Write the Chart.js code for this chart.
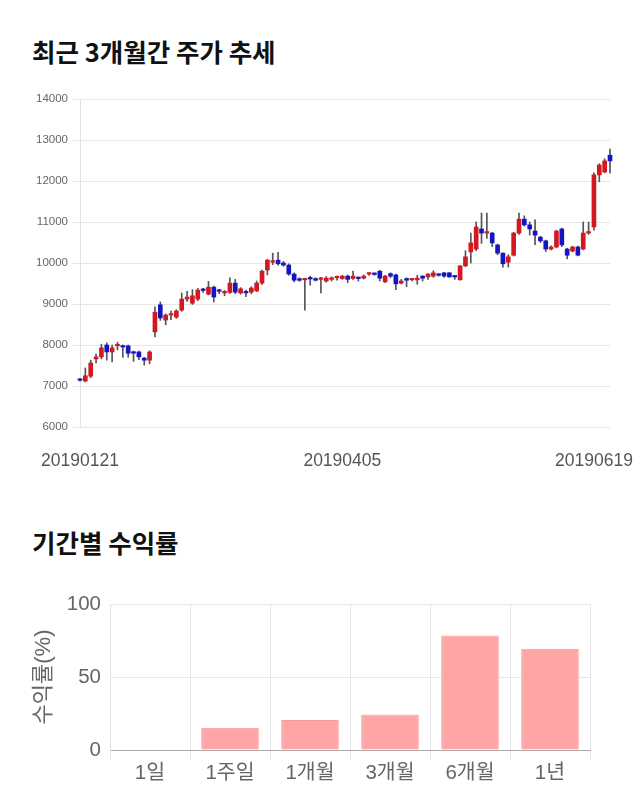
<!DOCTYPE html>
<html>
<head>
<meta charset="utf-8">
<script src="https://cdn.jsdelivr.net/npm/chart.js@4"></script>
<style>
    body { margin: 0; background: #fff; width: 640px; height: 810px; position: relative; overflow: hidden; }
    .title { position: absolute; left: 32px; font: bold 25.5px 'Noto Sans CJK KR', sans-serif; color: #111; line-height: 30px; }
    .box { position: absolute; left: 0; width: 640px; }
</style>
</head>
<body>
<div class="title" style="top: 36px;">최근 3개월간 주가 추세</div>
<div class="box" style="top: 80px; height: 400px;"><canvas id="priceChart" width="640" height="400"></canvas></div>
<div class="title" style="top: 527px;">기간별 수익률</div>
<div class="box" style="top: 580px; height: 220px;"><canvas id="returnChart" width="640" height="220"></canvas></div>

<script>
// daily candles
const opens = [7150, 7120, 7240, 7660, 7710, 8000, 7830, 7980, 7960, 7980,
    7830, 7830, 7680, 7630, 8320, 8980, 8610, 8730, 8680, 8850,
    9120, 9020, 9120, 9350, 9240, 9410, 9330, 9270, 9280, 9510,
    9270, 9280, 9290, 9320, 9510, 9830, 10020, 10070, 10000, 9950,
    9730, 9590, 9590, 9620, 9620, 9600, 9560, 9600, 9640, 9620,
    9680, 9620, 9630, 9630, 9730, 9730, 9800, 9540, 9740, 9710,
    9510, 9620, 9590, 9590, 9680, 9660, 9680, 9710, 9760, 9760,
    9670, 9590, 9930, 10270, 10340, 10830, 10730, 10730, 10440, 10240,
    10020, 10190, 10730, 11070, 10930, 10780, 10630, 10540, 10340, 10390,
    10830, 10340, 10290, 10390, 10340, 10730, 10880, 12150, 12220, 12630];
const highs = [7170, 7440, 7630, 7780, 8020, 8050, 8000, 8070, 8000, 8000,
    7850, 7850, 7700, 7860, 8930, 9050, 8760, 8830, 8860, 9270,
    9310, 9350, 9380, 9380, 9550, 9440, 9360, 9330, 9640, 9600,
    9400, 9340, 9420, 9560, 9830, 10090, 10240, 10260, 10040, 9980,
    9760, 9640, 9620, 9680, 9640, 9650, 9670, 9660, 9680, 9700,
    9710, 9800, 9660, 9710, 9760, 9760, 9820, 9700, 9760, 9730,
    9600, 9640, 9620, 9700, 9690, 9740, 9810, 9740, 9770, 9770,
    9690, 9940, 10300, 10730, 11000, 11220, 11220, 10750, 10460, 10250,
    10200, 10750, 11220, 11150, 11000, 11050, 10650, 10560, 10420, 10800,
    10850, 10360, 10410, 10410, 11000, 11000, 12200, 12420, 12540, 12780];
const lows = [7120, 7100, 7200, 7560, 7660, 7630, 7590, 7880, 7700, 7700,
    7600, 7640, 7510, 7540, 8200, 8600, 8490, 8620, 8650, 8820,
    9060, 8990, 9080, 9280, 9220, 9050, 9250, 9200, 9260, 9250,
    9240, 9180, 9250, 9300, 9480, 9710, 9960, 9950, 9920, 9700,
    9540, 9550, 8850, 9460, 9560, 9270, 9530, 9560, 9580, 9600,
    9520, 9600, 9560, 9610, 9700, 9700, 9560, 9520, 9640, 9350,
    9490, 9420, 9560, 9480, 9560, 9600, 9650, 9680, 9650, 9650,
    9600, 9580, 9910, 10000, 10300, 10480, 10600, 10400, 10200, 9900,
    9900, 10170, 10700, 10900, 10680, 10450, 10500, 10280, 10320, 10370,
    10400, 10100, 10270, 10170, 10320, 10700, 10800, 11980, 12200, 12200];
const closes = [7140, 7250, 7560, 7710, 7930, 7830, 7930, 7990, 7950, 7800,
    7800, 7710, 7630, 7830, 8800, 8660, 8730, 8740, 8830, 9120,
    9170, 9200, 9340, 9330, 9410, 9170, 9310, 9300, 9510, 9290,
    9370, 9270, 9390, 9510, 9800, 10070, 10030, 9980, 9950, 9730,
    9580, 9580, 9600, 9610, 9580, 9610, 9630, 9640, 9650, 9680,
    9600, 9680, 9620, 9680, 9740, 9720, 9630, 9680, 9680, 9490,
    9560, 9580, 9600, 9630, 9630, 9730, 9760, 9700, 9680, 9660,
    9660, 9930, 10150, 10490, 10880, 10730, 10740, 10490, 10240, 9980,
    10150, 10730, 11070, 10930, 10830, 10680, 10540, 10340, 10390, 10780,
    10440, 10190, 10390, 10190, 10730, 10740, 12150, 12390, 12490, 12490];
const dateTicks = { 0: '20190121', 49: '20190405', 96: '20190619' };
const priceTicks = [6000, 14000, 1000];

// period returns
const periods = ['1일', '1주일', '1개월', '3개월', '6개월', '1년'];
const returns = [0, 15.2, 20.6, 24.3, 78.5, 69.3];

const latin = "'Liberation Sans', 'Noto Sans CJK KR', sans-serif";
const upColor = '#d3181f';
const downColor = '#1414c4';

const candleColors = opens.map((o, i) => closes[i] >= o ? upColor : downColor);

new Chart(document.getElementById('priceChart'), {
    type: 'bar',
    data: {
        labels: opens.map((_, i) => i),
        datasets: [{
            // wicks, drawn under the bodies
            data: lows.map((l, i) => [l, highs[i]]),
            backgroundColor: '#555',
            barThickness: 1,
            grouped: false,
            clip: false,
            order: 2
        }, {
            data: opens.map((o, i) => [o, closes[i]]),
            backgroundColor: candleColors,
            barThickness: 4,
            minBarLength: 1.5,
            grouped: false,
            clip: false,
            order: 1
        }]
    },
    options: {
        responsive: false,
        animation: false,
        layout: { padding: { top: 19, right: 30, left: 0, bottom: 0 } },
        plugins: { legend: { display: false }, tooltip: { enabled: false } },
        scales: {
            x: {
                offset: false,
                grid: { display: false, drawTicks: false },
                border: { display: false },
                ticks: {
                    autoSkip: false,
                    maxRotation: 0,
                    padding: 24,
                    color: '#555',
                    font: { family: latin, size: 17.5 },
                    callback: (v, i) => dateTicks[i] || ''
                },
                afterFit: s => { s.height = 53; }
            },
            y: {
                min: priceTicks[0],
                max: priceTicks[1],
                grid: { color: '#e6e6e6', tickLength: 8 },
                border: { color: '#e2e2e2' },
                ticks: {
                    stepSize: priceTicks[2],
                    padding: 4,
                    color: '#666',
                    font: { family: latin, size: 11.5 },
                    callback: v => String(v)
                },
                afterFit: s => { s.width = 80; }
            }
        }
    }
});

new Chart(document.getElementById('returnChart'), {
    type: 'bar',
    data: {
        labels: periods,
        datasets: [{
            data: returns,
            backgroundColor: '#ffa5a5',
            borderColor: '#f49c9c',
            borderWidth: 1
        }]
    },
    options: {
        responsive: false,
        animation: false,
        layout: { padding: { top: 24, right: 50, left: 0, bottom: 0 } },
        plugins: { legend: { display: false }, tooltip: { enabled: false } },
        scales: {
            x: {
                grid: { color: '#e6e6e6', tickLength: 10 },
                border: { color: '#aaa' },
                ticks: {
                    padding: 1,
                    color: '#666',
                    font: { family: latin, size: 20.5 }
                },
                afterFit: s => { s.height = 50; }
            },
            y: {
                min: 0,
                max: 100,
                grid: { color: '#e6e6e6', drawTicks: false },
                border: { color: '#e2e2e2' },
                ticks: {
                    stepSize: 50,
                    padding: 9,
                    color: '#666',
                    font: { family: latin, size: 20.5 }
                },
                title: {
                    display: true,
                    text: '수익률(%)',
                    color: '#666',
                    font: { family: latin, size: 22 },
                    padding: { top: 31, bottom: 0 }
                },
                afterFit: s => { s.width = 110; }
            }
        }
    }
});
</script>
</body>
</html>
